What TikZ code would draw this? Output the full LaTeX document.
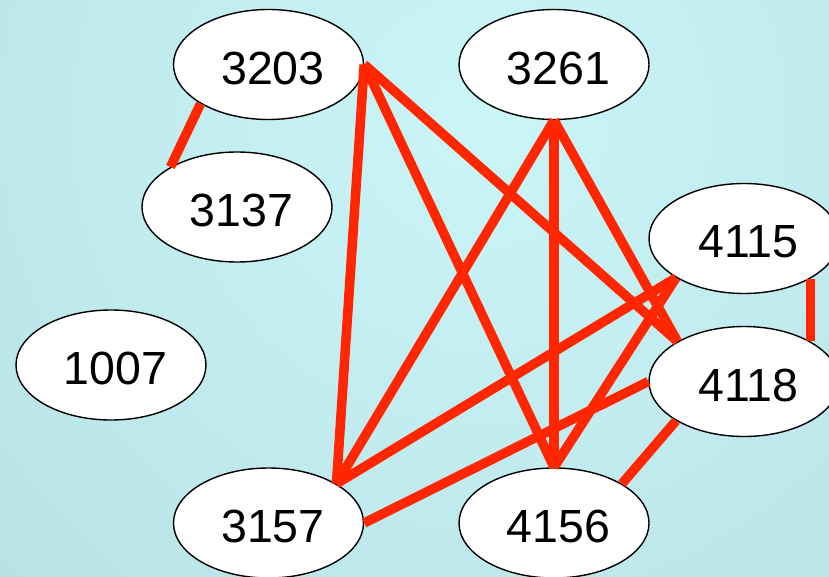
\documentclass[tikz,border=0pt]{standalone}
\usepackage{fontspec}
\setmainfont{Liberation Sans}
\usetikzlibrary{shapes.geometric}
\definecolor{bginner}{RGB}{203,246,248}
\definecolor{bgouter}{RGB}{166,206,213}
\definecolor{edgered}{RGB}{255,38,0}
\tikzset{
  vtx/.style={ellipse, draw=black, line width=1.4pt, fill=white,
    minimum width=190pt, minimum height=110pt, inner sep=0pt},
  lbl/.style={font=\fontsize{46.5}{46.5}\selectfont, inner sep=0pt},
  link/.style={draw=edgered, line width=9.5pt, line cap=butt}
}
\begin{document}
\begin{tikzpicture}[x=1pt,y=-1pt]
\useasboundingbox (0,0) rectangle (829,577);
\begin{scope}
\clip (0,0) rectangle (829,577);
\shade[inner color=bginner, outer color=bgouter] (480,120) circle (1320);
\end{scope}
% nodes
\node[vtx] (n3203) at (268.5,64.5) {};
\node[vtx] (n3261) at (554,64.5) {};
\node[vtx] (n3137) at (237,207) {};
\node[vtx] (n1007) at (111,365) {};
\node[vtx] (n4115) at (744,238.5) {};
\node[vtx] (n4118) at (744,381.5) {};
\node[vtx] (n3157) at (268.5,523) {};
\node[vtx] (n4156) at (554,523) {};
% labels
\node[lbl] (t3203) at (273,68) {3203};
\node[lbl] (t3261) at (558.5,68) {3261};
\node[lbl] (t3137) at (241.5,210.5) {3137};
\node[lbl] (t1007) at (115.5,368.5) {1007};
\node[lbl] (t4115) at (748.5,242) {4115};
\node[lbl] (t4118) at (748.5,385) {4118};
\node[lbl] (t3157) at (273,526.5) {3157};
\node[lbl] (t4156) at (558.5,526.5) {4156};
% edges
\draw[link] (n3203.210) -- (n3137.149);
\draw[link] (n3203.east) -- (n3157.30);
\draw[link] (n3203.east) -- (n4156.north);
\draw[link] (n3203.east) -- (n4118.149);
\draw[link] (n3261.south) -- (n3157.30);
\draw[link] (n3261.south) -- (n4156.north);
\draw[link] (n3261.south) -- (n4118.149);
\draw[link] (n4115.210) -- (n3157.30);
\draw[link] (n4115.210) -- (n4156.north);
\draw[link] (n4118.west) -- (n3157.east);
\draw[link] (n4118.210) -- (n4156.30);
\draw[link] (n4115.-31.6) -- (n4118.31.6);
\end{tikzpicture}
\end{document}
